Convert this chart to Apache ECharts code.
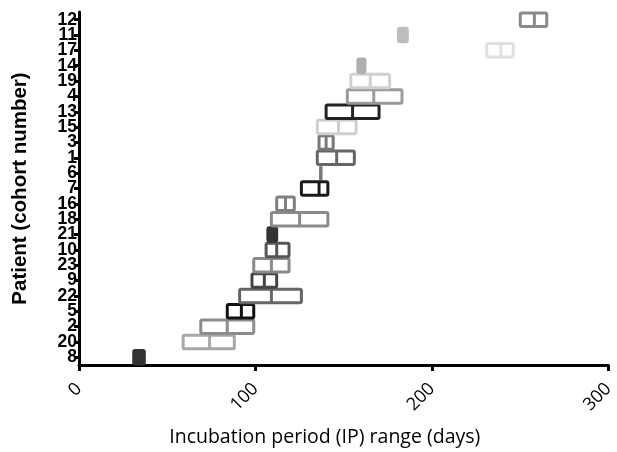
<!DOCTYPE html>
<html>
<head>
<meta charset="utf-8">
<script src="https://cdn.jsdelivr.net/npm/echarts@6/dist/echarts.min.js"></script>
<style>html,body{margin:0;padding:0;background:#fff}#c{width:617px;height:452px}</style>
</head>
<body>
<div id="c"></div>
<script>
// Patients, bottom to top
const patients = ['8','20','2','5','22','9','23','10','21','18','16','7','6','1','3','15','13','4','19','14','17','11','12'];
// IP range (days): minimum, median, maximum
const ipMin    = [31, 59, 69, 84, 91, 98, 99, 106, 107, 109, 112, 126, 137, 135, 136, 135, 140, 152, 154, 158, 231, 181, 250];
const ipMedian = [34, 74, 84, 92, 109, 105, 109, 112, 110, 125, 117, 136, 137, 146, 140, 147, 155, 167, 165, 160, 239, 183, 258];
const ipMax    = [37, 88, 99, 99, 126, 112, 119, 119, 112, 141, 122, 141, 137, 156, 144, 157, 170, 183, 176, 162, 246, 186, 265];
// Box colours (style)
const boxColors = ['#333333','#a8a8a8','#8c8c8c','#111111','#666666','#444444','#8a8a8a','#555555','#333333','#8a8a8a','#808080','#1a1a1a','#777777','#666666','#777777','#cfcfcf','#222222','#9a9a9a','#d0d0d0','#b0b0b0','#e0e0e0','#bdbdbd','#8a8a8a'];
const xTicks = [0, 100, 200, 300];

const data = patients.map((p, i) => [ipMin[i], ipMedian[i], ipMax[i], i]);

const chart = echarts.init(document.getElementById('c'), null, {renderer: 'canvas'});
chart.setOption({
  animation: false,
  grid: {left: 79, right: 4, top: 12, bottom: 87, containLabel: false},
  xAxis: {
    type: 'value', min: xTicks[0], max: xTicks[xTicks.length - 1], interval: 100,
    splitLine: {show: false},
    axisLine: {show: true, lineStyle: {color: '#000', width: 3}},
    axisTick: {show: true, length: 6, lineStyle: {color: '#000', width: 3}},
    axisLabel: {rotate: 45, fontSize: 18, fontFamily: 'Open Sans', color: '#000', margin: 21, padding: [26, 0, 0, 0]},
    name: 'Incubation period (IP) range (days)',
    nameLocation: 'middle', nameGap: 62,
    nameTextStyle: {fontSize: 19.5, fontFamily: 'Open Sans', color: '#000', padding: [0, 38, 0, 0]}
  },
  yAxis: {
    type: 'category', data: patients, boundaryGap: true,
    axisLine: {show: true, lineStyle: {color: '#000', width: 3}},
    axisTick: {show: true, alignWithLabel: true, interval: 0, length: 5, lineStyle: {color: '#000', width: 3}},
    axisLabel: {interval: 0, fontSize: 17.5, fontWeight: 'bold', fontFamily: 'Liberation Sans', color: '#000', margin: 2, lineHeight: 14},
    splitLine: {show: false},
    name: 'Patient (cohort number)',
    nameLocation: 'middle', nameGap: 48,
    nameTextStyle: {fontSize: 20.5, fontWeight: 'bold', fontFamily: 'Liberation Sans', color: '#000'}
  },
  series: [{
    type: 'custom',
    data: data,
    encode: {x: [0, 1, 2], y: 3},
    renderItem: function (params, api) {
      const idx = api.value(3);
      const pMin = api.coord([api.value(0), idx]);
      const pMed = api.coord([api.value(1), idx]);
      const pMax = api.coord([api.value(2), idx]);
      const h = api.size([0, 1])[1] * 0.88;
      const w = pMax[0] - pMin[0];
      const color = boxColors[params.dataIndex];
      const filled = w < 12;
      return {
        type: 'group',
        children: [
          {type: 'rect',
           shape: {x: pMin[0], y: pMin[1] - h / 2, width: w, height: h, r: 1.5},
           style: {fill: filled ? color : '#fff', stroke: color, lineWidth: 3}},
          {type: 'line',
           shape: {x1: pMed[0], y1: pMin[1] - h / 2, x2: pMed[0], y2: pMin[1] + h / 2},
           style: {stroke: color, lineWidth: 3}}
        ]
      };
    }
  }]
});
</script>
</body>
</html>
